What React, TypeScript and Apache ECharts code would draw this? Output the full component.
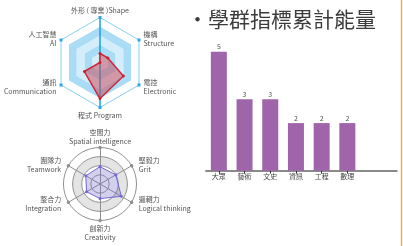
import React, { useEffect, useRef } from 'react';
import * as echarts from 'echarts';

const FONT = '"Noto Sans CJK TC", "Noto Sans", sans-serif';

const skillNames = ['外形 ( 專業 )Shape', '人工智慧\nAI', '通訊\nCommunication', '程式 Program', '電控\nElectronic', '機構\nStructure'];
const skillValues = [1, 0, 2, 4, 3, 1];
const skillMax = 5;

const abilityNames = ['空間力\nSpatial intelligence', '團隊力\nTeamwork', '整合力\nIntegration', '創新力\nCreativity', '邏輯力\nLogical thinking', '堅毅力\nGrit'];
const abilityValues = [1.9, 1.8, 1.7, 1.6, 2.7, 2.0];
const abilityMax = 4;

const groupCategories = ['大眾', '藝術', '文史', '資訊', '工程', '數理'];
const groupValues = [5, 3, 3, 2, 2, 2];
const titleText = '・學群指標累計能量';

export default function App() {
  const ref = useRef<HTMLDivElement>(null);
  useEffect(() => {
    if (!ref.current) return;
    const chart = echarts.init(ref.current, null, { renderer: 'svg' });
    const nameStyle = { color: '#555', fontSize: 7, lineHeight: 9, fontFamily: FONT };
    chart.setOption({
      animation: false,
      textStyle: { fontFamily: FONT },
      graphic: [
        {
          type: 'text', left: 187, top: 7,
          style: { text: titleText, fontSize: 21, fill: '#3c3c3c', fontFamily: FONT },
        },
        {
          type: 'rect', shape: { x: 400.8, y: 0, width: 1.5, height: 246 },
          style: { fill: '#f0b43c' },
        },
      ],
      radar: [
        {
          center: [100, 62.5], radius: 45, shape: 'polygon', splitNumber: 5, startAngle: 90,
          indicator: skillNames.map((n) => ({ name: n, max: skillMax })),
          axisName: { ...nameStyle, padding: [0, 2] }, nameGap: 3,
          axisLine: { show: false },
          splitLine: { lineStyle: { color: ['transparent', 'transparent', 'transparent', 'transparent', 'transparent', '#86cff1'], width: 1 } },
          splitArea: { areaStyle: { color: ['#d3edfa', '#aadcf5', '#d3edfa', '#aadcf5', '#ffffff'] } },
        },
        {
          center: [100, 62.5], radius: 45, shape: 'polygon', splitNumber: 5, startAngle: 90,
          indicator: [{ name: '', max: skillMax }, { name: '', max: skillMax }],
          axisName: { show: false },
          axisLine: { lineStyle: { color: '#1d9fe0', width: 1.5 } },
          splitLine: { show: false },
          splitArea: { show: false },
        },
        {
          center: [100, 184], radius: 36.5, shape: 'circle', splitNumber: 4, startAngle: 90,
          indicator: abilityNames.map((n) => ({ name: n, max: abilityMax })),
          axisName: { ...nameStyle, padding: [0, 5] }, nameGap: 2.5,
          axisLine: { symbol: ['none', 'circle'], symbolSize: [3.5, 3.5], lineStyle: { color: '#909090', width: 1 } },
          splitLine: { lineStyle: { color: '#909090', width: 1 } },
          splitArea: { areaStyle: { color: ['#ffffff', '#ffffff', '#e4e4e4', '#ffffff'] } },
        },
      ],
      grid: { left: 206, width: 190.7, top: 51.7, height: 119 },
      xAxis: {
        type: 'value', min: -0.5, max: 6.92,
        splitLine: { show: false },
        axisLine: { show: true, lineStyle: { color: '#8a8a8a', width: 2 } },
        axisTick: { show: true, customValues: groupCategories.map((_, i) => i), length: 3, lineStyle: { color: '#333' } },
        axisLabel: {
          customValues: groupCategories.map((_, i) => i),
          formatter: (v: number) => groupCategories[Math.round(v)] ?? '',
          fontSize: 7, color: '#444', margin: 2, fontFamily: FONT,
        },
      },
      yAxis: { type: 'value', min: 0, max: 5, show: false },
      series: [
        {
          type: 'radar', radarIndex: 0, silent: true,
          data: [{ value: skillNames.map(() => skillMax) }],
          symbol: 'rect', symbolSize: 3,
          lineStyle: { opacity: 0 },
          itemStyle: { color: '#2ea6e0' },
          z: 1,
        },
        {
          type: 'radar', radarIndex: 0,
          data: [{ value: skillValues }],
          symbol: 'circle', symbolSize: 3,
          lineStyle: { color: '#c8202f', width: 1.5 },
          itemStyle: { color: '#c8202f' },
          areaStyle: { color: 'rgba(205, 70, 85, 0.72)' },
          z: 3,
        },
        {
          type: 'radar', radarIndex: 2,
          data: [{ value: abilityValues }],
          symbol: 'circle', symbolSize: 3,
          lineStyle: { color: '#7468d6', width: 1 },
          itemStyle: { color: '#7468d6' },
          areaStyle: { color: 'rgba(115, 105, 200, 0.45)' },
        },
        {
          type: 'bar', xAxisIndex: 0, yAxisIndex: 0,
          data: groupValues.map((v, i) => [i, v]),
          barWidth: 16,
          itemStyle: { color: '#a064aa' },
          label: { show: true, position: 'top', distance: 2, fontSize: 7, color: '#555', fontFamily: FONT },
        },
      ],
    });
    return () => chart.dispose();
  }, []);
  return <div ref={ref} style={{ position: 'fixed', left: 0, top: 0, width: 403, height: 246 }} />;
}
